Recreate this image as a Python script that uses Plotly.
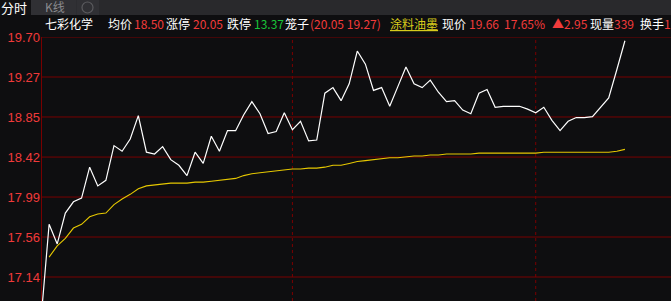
import plotly.graph_objects as go

# ---- data (minute index from open) ----
price = [16.68, 17.70, 17.49, 17.82, 17.94, 17.98, 18.31, 18.11, 18.17, 18.54,
         18.48, 18.61, 18.86, 18.47, 18.45, 18.53, 18.39, 18.33, 18.22, 18.47,
         18.35, 18.64, 18.48, 18.70, 18.70, 18.87, 19.01, 18.88, 18.67, 18.69,
         18.89, 18.71, 18.80, 18.59, 18.60, 19.10, 19.16, 19.02, 19.20, 19.55,
         19.41, 19.13, 19.16, 18.96, 19.17, 19.38, 19.20, 19.16, 19.24, 19.11,
         19.01, 19.02, 18.92, 18.88, 19.10, 19.14, 18.95, 18.96, 18.96, 18.96,
         18.93, 18.89, 18.95, 18.81, 18.70, 18.80, 18.84, 18.84, 18.85, 18.95,
         19.05, 19.35, 19.66]
avg = [None, 17.35, 17.47, 17.55, 17.66, 17.70, 17.78, 17.81, 17.82, 17.91,
       17.97, 18.02, 18.08, 18.11, 18.12, 18.13, 18.14, 18.14, 18.14, 18.15,
       18.15, 18.16, 18.17, 18.18, 18.19, 18.22, 18.24, 18.25, 18.26, 18.27,
       18.28, 18.29, 18.29, 18.30, 18.30, 18.31, 18.33, 18.33, 18.35, 18.37,
       18.38, 18.39, 18.40, 18.41, 18.41, 18.42, 18.43, 18.43, 18.44, 18.44,
       18.45, 18.45, 18.45, 18.45, 18.46, 18.46, 18.46, 18.46, 18.46, 18.46,
       18.46, 18.46, 18.47, 18.47, 18.47, 18.47, 18.47, 18.47, 18.47, 18.47,
       18.47, 18.48, 18.50]
minutes = list(range(len(price)))

prev_close = 16.71
tick_values = [17.137, 17.564, 17.991, 18.418, 18.846, 19.273, 19.70]
tick_labels = ["17.14", "17.56", "17.99", "18.42", "18.85", "19.27", "19.70"]
divider_x = [31, 61]

# info bar segments: (text, colour, left x in px)
info_segments = [
    ("七彩化学", "#ffffff", 43), ("均价", "#ffffff", 106), ("18.50", "#f23b3b", 132),
    ("涨停", "#ffffff", 164), ("20.05", "#f23b3b", 191), ("跌停", "#ffffff", 225),
    ("13.37", "#19c43a", 252), ("笼子", "#ffffff", 283), ("(20.05 19.27)", "#f23b3b", 308),
    ("<u>涂料油墨</u>", "#d8cc1c", 388), ("现价", "#ffffff", 440), ("19.66", "#f23b3b", 467),
    ("17.65%", "#f23b3b", 502), ("▲2.95", "#f23b3b", 550), ("现量", "#ffffff", 588),
    ("339", "#f23b3b", 612), ("换手", "#ffffff", 638), ("19", "#f23b3b", 662),
]

W, H = 671, 301
L, T = 41, 37
PW, PH = W - L, H - T
px_per_unit = 40 / 0.42714
y_top = 19.70
y_bot = y_top - PH / px_per_unit
x_step = 8.11
x_max = PW / x_step
GRID = "#780000"


def px(x):
    return (x - L) / PW


def py(y):
    return 1 + (T - y) / PH


fig = go.Figure()

# grid lines and left axis line
for tv in tick_values:
    fig.add_shape(type="line", xref="paper", yref="y", x0=0, x1=1, y0=tv, y1=tv,
                  line=dict(color=GRID, width=1), layer="below")
fig.add_shape(type="line", xref="paper", yref="paper", x0=0.0008, x1=0.0008, y0=0, y1=1,
              line=dict(color=GRID, width=1), layer="below")
for dx in divider_x:
    fig.add_shape(type="line", xref="x", yref="paper", x0=dx, x1=dx, y0=0, y1=1,
                  line=dict(color="#7a0000", width=1, dash="dot"), layer="below")

fig.add_trace(go.Scatter(x=minutes, y=price, mode="lines",
                         line=dict(color="#ffffff", width=1.2), hoverinfo="skip"))
fig.add_trace(go.Scatter(x=minutes, y=avg, mode="lines",
                         line=dict(color="#e6c800", width=1.1), hoverinfo="skip"))

# header bar
shapes_hdr = [
    dict(x0=px(0), x1=px(W), y0=py(15), y1=py(0), color="#29292c"),
    dict(x0=px(0), x1=px(31), y0=py(15), y1=py(0), color="#111113"),
    dict(x0=px(31), x1=px(76), y0=py(15), y1=py(0), color="#303034"),
    dict(x0=px(76.5), x1=px(99), y0=py(15), y1=py(0), color="#303034"),
]
for s in shapes_hdr:
    fig.add_shape(type="rect", xref="paper", yref="paper", x0=s["x0"], x1=s["x1"],
                  y0=s["y0"], y1=s["y1"], fillcolor=s["color"], line=dict(width=0))
fig.add_shape(type="circle", xref="paper", yref="paper", x0=px(82), x1=px(93),
              y0=py(13), y1=py(2), line=dict(color="#5a5a5e", width=1.2))

fig.add_annotation(text="分时", x=px(-1), y=py(7), xref="paper", yref="paper",
                   xanchor="left", yanchor="middle", showarrow=False,
                   font=dict(color="#ffffff", size=13, family="Noto Sans CJK SC"))
fig.add_annotation(text="K线", x=px(43), y=py(6.5), xref="paper", yref="paper",
                   xanchor="left", yanchor="middle", showarrow=False,
                   font=dict(color="#8a8a8e", size=12, family="Noto Sans CJK SC"))

for text, color, x0 in info_segments:
    fig.add_annotation(text=text, x=px(x0), y=py(23.5), xref="paper", yref="paper",
                       xanchor="left", yanchor="middle", showarrow=False,
                       font=dict(color=color, size=12, family="Noto Sans CJK SC"))

fig.update_layout(
    width=W, height=H,
    margin=dict(l=L, r=0, t=T, b=0),
    paper_bgcolor="#0e0e10", plot_bgcolor="#0e0e10",
    showlegend=False,
    xaxis=dict(range=[0, x_max], showgrid=False, zeroline=False, showticklabels=False,
               showline=False, fixedrange=True),
    yaxis=dict(range=[y_bot, y_top], tickvals=tick_values, ticktext=tick_labels,
               showgrid=False, zeroline=False, showline=False, ticks="",
               tickfont=dict(color="#f03a3a", size=13, family="Liberation Sans"),
               fixedrange=True),
)

fig.write_html("out.html", config={"displayModeBar": False})
